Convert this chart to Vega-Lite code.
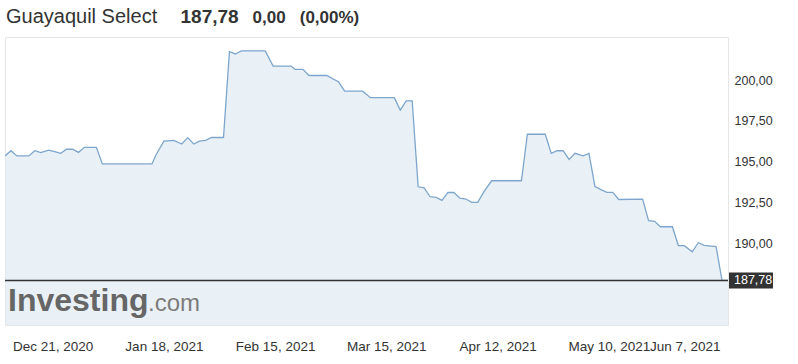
{
  "$schema": "https://vega.github.io/schema/vega-lite/v6.json",
  "width": 723,
  "height": 288,
  "autosize": {"type": "none"},
  "padding": {"left": 5, "top": 37, "right": 70, "bottom": 39},
  "background": "white",
  "title": {"text": "Guayaquil Select", "anchor": "start", "frame": "group", "fontSize": 20, "fontWeight": "normal", "color": "#333333", "font": "Liberation Sans", "offset": -36, "baseline": "alphabetic", "dx": 1},
  "config": {
    "font": "Liberation Sans",
    "view": {"stroke": "#e6e6e6"},
    "locale": {"number": {"decimal": ",", "thousands": ".", "grouping": [3], "currency": ["", " €"]}}
  },
  "layer": [
    {
      "data": {"values": [
        {"date": "2020-12-09T00:00", "price": 195.41},
        {"date": "2020-12-10T12:00", "price": 195.73},
        {"date": "2020-12-12T00:00", "price": 195.41},
        {"date": "2020-12-15T00:00", "price": 195.41},
        {"date": "2020-12-16T12:00", "price": 195.73},
        {"date": "2020-12-18T00:00", "price": 195.61},
        {"date": "2020-12-20T00:00", "price": 195.77},
        {"date": "2020-12-21T12:00", "price": 195.67},
        {"date": "2020-12-23T00:00", "price": 195.57},
        {"date": "2020-12-24T12:00", "price": 195.82},
        {"date": "2020-12-26T00:00", "price": 195.82},
        {"date": "2020-12-27T12:00", "price": 195.63},
        {"date": "2020-12-29T00:00", "price": 195.94},
        {"date": "2021-01-01T00:00", "price": 195.94},
        {"date": "2021-01-02T12:00", "price": 194.92},
        {"date": "2021-01-15T00:00", "price": 194.92},
        {"date": "2021-01-16T00:00", "price": 195.47},
        {"date": "2021-01-18T00:00", "price": 196.32},
        {"date": "2021-01-20T12:00", "price": 196.37},
        {"date": "2021-01-22T12:00", "price": 196.14},
        {"date": "2021-01-24T00:00", "price": 196.53},
        {"date": "2021-01-25T12:00", "price": 196.14},
        {"date": "2021-01-27T00:00", "price": 196.32},
        {"date": "2021-01-28T12:00", "price": 196.36},
        {"date": "2021-01-30T00:00", "price": 196.54},
        {"date": "2021-02-02T00:00", "price": 196.54},
        {"date": "2021-02-03T12:00", "price": 201.80},
        {"date": "2021-02-05T00:00", "price": 201.66},
        {"date": "2021-02-06T12:00", "price": 201.85},
        {"date": "2021-02-12T12:00", "price": 201.85},
        {"date": "2021-02-14T12:00", "price": 200.92},
        {"date": "2021-02-19T00:00", "price": 200.92},
        {"date": "2021-02-20T00:00", "price": 200.72},
        {"date": "2021-02-22T00:00", "price": 200.72},
        {"date": "2021-02-23T12:00", "price": 200.34},
        {"date": "2021-02-28T00:00", "price": 200.34},
        {"date": "2021-03-03T00:00", "price": 199.94},
        {"date": "2021-03-04T12:00", "price": 199.38},
        {"date": "2021-03-09T00:00", "price": 199.38},
        {"date": "2021-03-11T00:00", "price": 198.98},
        {"date": "2021-03-17T00:00", "price": 198.98},
        {"date": "2021-03-18T12:00", "price": 198.22},
        {"date": "2021-03-20T00:00", "price": 198.79},
        {"date": "2021-03-21T12:00", "price": 198.79},
        {"date": "2021-03-23T00:00", "price": 193.52},
        {"date": "2021-03-24T12:00", "price": 193.46},
        {"date": "2021-03-26T00:00", "price": 192.91},
        {"date": "2021-03-27T12:00", "price": 192.87},
        {"date": "2021-03-29T00:00", "price": 192.69},
        {"date": "2021-03-30T12:00", "price": 193.18},
        {"date": "2021-04-01T00:00", "price": 193.17},
        {"date": "2021-04-02T12:00", "price": 192.82},
        {"date": "2021-04-04T00:00", "price": 192.77},
        {"date": "2021-04-05T12:00", "price": 192.57},
        {"date": "2021-04-07T00:00", "price": 192.57},
        {"date": "2021-04-08T12:00", "price": 193.19},
        {"date": "2021-04-10T12:00", "price": 193.89},
        {"date": "2021-04-18T00:00", "price": 193.89},
        {"date": "2021-04-19T12:00", "price": 196.74},
        {"date": "2021-04-24T00:00", "price": 196.74},
        {"date": "2021-04-25T12:00", "price": 195.57},
        {"date": "2021-04-27T00:00", "price": 195.73},
        {"date": "2021-04-28T12:00", "price": 195.73},
        {"date": "2021-04-30T00:00", "price": 195.20},
        {"date": "2021-05-01T12:00", "price": 195.57},
        {"date": "2021-05-03T12:00", "price": 195.42},
        {"date": "2021-05-05T00:00", "price": 195.57},
        {"date": "2021-05-06T12:00", "price": 193.54},
        {"date": "2021-05-08T00:00", "price": 193.35},
        {"date": "2021-05-09T12:00", "price": 193.18},
        {"date": "2021-05-11T00:00", "price": 193.18},
        {"date": "2021-05-12T12:00", "price": 192.74},
        {"date": "2021-05-18T12:00", "price": 192.76},
        {"date": "2021-05-20T00:00", "price": 191.44},
        {"date": "2021-05-21T12:00", "price": 191.40},
        {"date": "2021-05-23T00:00", "price": 191.07},
        {"date": "2021-05-26T00:00", "price": 191.07},
        {"date": "2021-05-27T12:00", "price": 189.92},
        {"date": "2021-05-29T00:00", "price": 189.91},
        {"date": "2021-05-31T00:00", "price": 189.54},
        {"date": "2021-06-01T12:00", "price": 190.09},
        {"date": "2021-06-03T00:00", "price": 189.93},
        {"date": "2021-06-06T00:00", "price": 189.85},
        {"date": "2021-06-07T12:00", "price": 187.78},
        {"date": "2021-06-09T00:00", "price": 187.78}
      ]},
      "mark": {"type": "area", "color": "#e1ebf2", "line": {"color": "#7ea6cc", "strokeWidth": 1.3}, "clip": true},
      "encoding": {
        "x": {
          "field": "date", "type": "temporal",
          "scale": {"domain": [{"year": 2020, "month": 12, "date": 9}, {"year": 2021, "month": 6, "date": 9}]},
          "axis": {
            "values": [
              {"year": 2020, "month": 12, "date": 21},
              {"year": 2021, "month": 1, "date": 18},
              {"year": 2021, "month": 2, "date": 15},
              {"year": 2021, "month": 3, "date": 15},
              {"year": 2021, "month": 4, "date": 12},
              {"year": 2021, "month": 5, "date": 10},
              {"year": 2021, "month": 6, "date": 7}
            ],
            "format": "%b %-d, %Y",
            "labelFontSize": 13.5, "labelColor": "#333333",
            "domain": false, "ticks": false, "tickSize": 0, "grid": false,
            "labelPadding": 14, "labelBaseline": "top", "labelFlush": 10, "labelOverlap": false,
            "title": "0,00\u00a0\u00a0\u00a0(0,00%)",
            "titleX": 247, "titleY": -303, "titleAlign": "left", "titleBaseline": "alphabetic",
            "titleFontSize": 17, "titleFontWeight": "bold", "titleColor": "#333333"
          }
        },
        "y": {
          "field": "price", "type": "quantitative",
          "scale": {"domain": [185.05, 202.7], "zero": false, "nice": false},
          "axis": {
            "orient": "right",
            "values": [185, 190, 192.5, 195, 197.5, 200],
            "format": ".2f",
            "labelFontSize": 12.5, "labelColor": "#333333",
            "labelPadding": 6, "labelOffset": -1,
            "domain": false, "ticks": false, "tickSize": 0, "grid": false,
            "title": "187,78",
            "titleAngle": 0, "titleX": -548, "titleY": -15, "titleAlign": "left", "titleBaseline": "alphabetic",
            "titleFontSize": 19, "titleFontWeight": "bold", "titleColor": "#333333"
          }
        }
      }
    },
    {
      "data": {"values": [{}]},
      "mark": {"type": "text", "text": "Investing", "font": "Liberation Sans", "fontSize": 32, "fontWeight": "bold", "color": "#666666", "align": "left", "baseline": "alphabetic", "dx": 3, "dy": -14, "clip": false},
      "encoding": {
        "x": {"datum": {"year": 2020, "month": 12, "date": 9}, "type": "temporal"},
        "y": {"datum": 185.05, "type": "quantitative"}
      }
    },
    {
      "data": {"values": [{}]},
      "mark": {"type": "text", "text": ".com", "font": "Liberation Sans", "fontSize": 24, "fontWeight": "normal", "color": "#7c7c7c", "align": "left", "baseline": "alphabetic", "dx": 143, "dy": -14, "clip": false},
      "encoding": {
        "x": {"datum": {"year": 2020, "month": 12, "date": 9}, "type": "temporal"},
        "y": {"datum": 185.05, "type": "quantitative"}
      }
    },
    {
      "data": {"values": [{}]},
      "mark": {"type": "rule", "color": "#333333", "strokeWidth": 1.5},
      "encoding": {"y": {"datum": 187.78, "type": "quantitative"}}
    },
    {
      "data": {"values": [{}]},
      "mark": {"type": "rect", "color": "#333333", "xOffset": 1, "x2Offset": 45, "yOffset": -8, "y2Offset": 8, "clip": false},
      "encoding": {
        "x": {"datum": {"year": 2021, "month": 6, "date": 9}, "type": "temporal"},
        "x2": {"datum": {"year": 2021, "month": 6, "date": 9}},
        "y": {"datum": 187.78, "type": "quantitative"},
        "y2": {"datum": 187.78}
      }
    },
    {
      "data": {"values": [{}]},
      "mark": {"type": "text", "text": "187,78", "fontSize": 12.5, "color": "white", "align": "left", "baseline": "middle", "dx": 6, "clip": false},
      "encoding": {
        "x": {"datum": {"year": 2021, "month": 6, "date": 9}, "type": "temporal"},
        "y": {"datum": 187.78, "type": "quantitative"}
      }
    }
  ]
}
